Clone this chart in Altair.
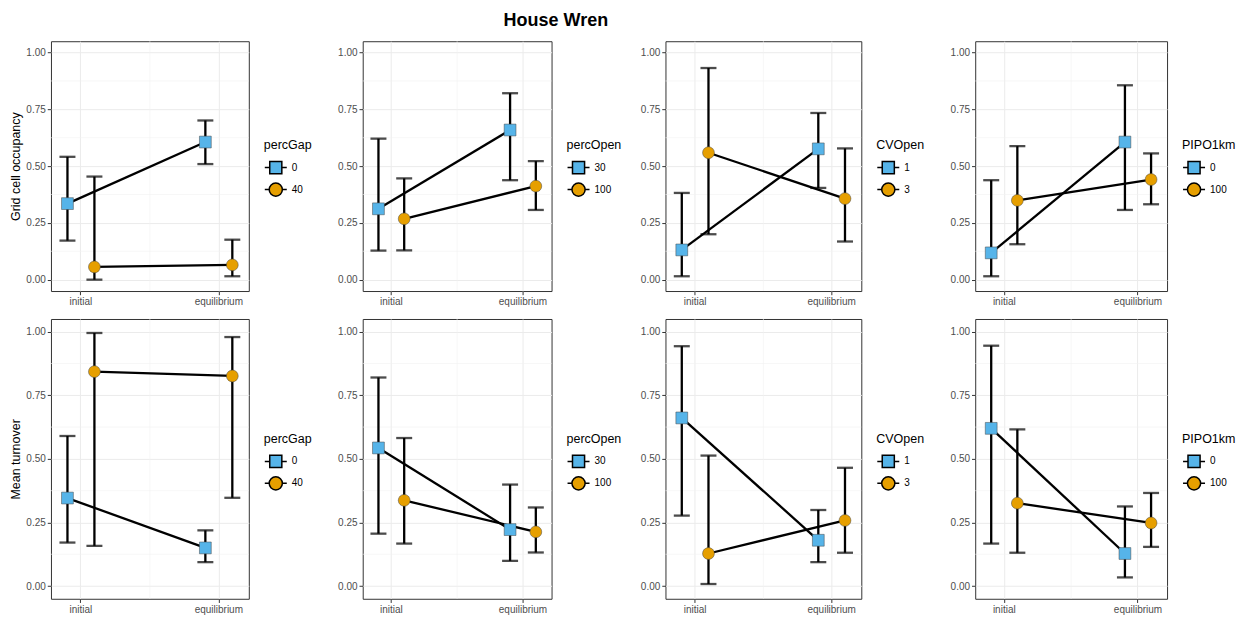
import altair as alt
import pandas as pd

title_text = "House Wren"
times = ["initial", "equilibrium"]
factors = ["percGap", "percOpen", "CVOpen", "PIPO1km"]
factor_levels = [["0", "40"], ["30", "100"], ["1", "3"], ["0", "100"]]
responses = ["Grid cell occupancy", "Mean turnover"]
level_colors = ["#56B4E9", "#E69F00"]

# order inside each panel: level A initial, level A equilibrium, level B initial, level B equilibrium
occ_mean = [
    [0.335, 0.606, 0.056, 0.065],
    [0.312, 0.659, 0.268, 0.412],
    [0.131, 0.576, 0.559, 0.357],
    [0.118, 0.606, 0.349, 0.441],
]
occ_lower = [
    [0.172, 0.509, 0.000, 0.015],
    [0.128, 0.438, 0.129, 0.307],
    [0.015, 0.404, 0.200, 0.168],
    [0.015, 0.307, 0.156, 0.332],
]
occ_upper = [
    [0.541, 0.701, 0.454, 0.176],
    [0.621, 0.821, 0.446, 0.522],
    [0.382, 0.734, 0.932, 0.578],
    [0.438, 0.856, 0.588, 0.556],
]
turn_mean = [
    [0.346, 0.150, 0.843, 0.826],
    [0.543, 0.222, 0.337, 0.213],
    [0.661, 0.180, 0.128, 0.258],
    [0.620, 0.128, 0.326, 0.248],
]
turn_lower = [
    [0.171, 0.094, 0.158, 0.347],
    [0.206, 0.099, 0.167, 0.132],
    [0.277, 0.094, 0.008, 0.131],
    [0.167, 0.034, 0.131, 0.154],
]
turn_upper = [
    [0.590, 0.219, 0.995, 0.979],
    [0.820, 0.399, 0.582, 0.309],
    [0.943, 0.299, 0.513, 0.465],
    [0.945, 0.313, 0.616, 0.366],
]

y_major = [0, 0.25, 0.5, 0.75, 1.0]
y_minor = [0.125, 0.375, 0.625, 0.875]

FONT = "Liberation Sans"
col_widths = [198, 189, 196, 192]
row_heights = [250, 280]
legend_y = [98, 114]
legend_x_gap = 15
PAD_IN = 0.609
PAD_OUT = 0.0218

SQ = "M-1,0H-0.55M0.55,0H1M-0.55,-0.55H0.55V0.55H-0.55Z"
CI = "M-1,0H-0.6M0.6,0H1M0.6,0A0.6,0.6,0,1,1,-0.6,0A0.6,0.6,0,1,1,0.6,0Z"

stats = [(occ_mean, occ_lower, occ_upper), (turn_mean, turn_lower, turn_upper)]


def build(r, c):
    mean, lower, upper = [s[c] for s in stats[r]]
    levels = factor_levels[c]
    rows = []
    for i, lev in enumerate(levels):
        for j, t in enumerate(times):
            k = i * 2 + j
            rows.append({"level": lev, "time": t, "mean": mean[k], "lo": lower[k], "hi": upper[k]})
    df = pd.DataFrame(rows)
    W = col_widths[c]
    H = row_heights[r]
    step = W / (len(times) - PAD_IN + 2 * PAD_OUT)
    bandw = step * (1 - PAD_IN)
    dodges = [-bandw / 4, bandw / 4]

    x = alt.X("time:N", title=None,
              scale=alt.Scale(type="band", domain=times, paddingInner=PAD_IN, paddingOuter=PAD_OUT),
              axis=alt.Axis(labelAngle=0, grid=True, domain=False))
    ysc = alt.Scale(domain=[-0.05, 1.05], nice=False, zero=False)
    yax = alt.Axis(values=y_major, format=".2f", grid=True, domain=False)
    ytitle = responses[r] if c == 0 else None

    def Y(field):
        return alt.Y(field, type="quantitative", scale=ysc, axis=yax, title=ytitle)

    fill_scale = alt.Scale(domain=levels, range=level_colors)
    layers = [
        alt.Chart(pd.DataFrame({"v": y_minor})).mark_rule(
            color="#F2F2F2", strokeWidth=0.6).encode(y=Y("v")),
        alt.Chart(pd.DataFrame({"v": [0]})).mark_rule(
            color="#F2F2F2", strokeWidth=0.6).encode(x=alt.value(W / 2)),
    ]
    base = alt.Chart(df)
    subs = [base.transform_filter(alt.datum.level == lev) for lev in levels]
    for sub, d in zip(subs, dodges):
        layers.append(sub.mark_rule(color="black", strokeWidth=2.3, xOffset=d).encode(
            x=x, y=Y("lo"), y2="hi:Q"))
        layers.append(sub.mark_tick(color="black", thickness=2.3, size=16, orient="horizontal",
                                    xOffset=d).encode(x=x, y=Y("hi")))
        layers.append(sub.mark_tick(color="black", thickness=2.3, size=16, orient="horizontal",
                                    xOffset=d).encode(x=x, y=Y("lo")))
    for sub, d in zip(subs, dodges):
        layers.append(sub.mark_line(color="black", strokeWidth=2.3, xOffset=d).encode(
            x=x, y=Y("mean"), detail="level:N"))
    # legend carrier: tiny symbols hidden under the level-A points
    leg = alt.Legend(title=factors[c], orient="none", legendX=W + legend_x_gap, legendY=legend_y[r],
                     symbolSize=484, symbolOpacity=1)
    layers.append(subs[0].mark_point(filled=True, opacity=1, size=4, stroke="black", strokeWidth=1.3,
                                     xOffset=dodges[0]).encode(
        x=x, y=Y("mean"),
        fill=alt.Fill("level:N", scale=fill_scale, legend=leg),
        shape=alt.Shape("level:N", scale=alt.Scale(domain=levels, range=[SQ, CI]), legend=leg),
    ))
    for sub, d in zip(subs, dodges):
        layers.append(sub.mark_point(filled=True, opacity=1, size=140, stroke="#444444", strokeWidth=0.5,
                                     xOffset=d).encode(
            x=x, y=Y("mean"),
            fill=alt.Fill("level:N", scale=fill_scale, legend=None),
            shape=alt.Shape("level:N", scale=alt.Scale(domain=levels, range=["square", "circle"]),
                            legend=None),
        ))
    return alt.layer(*layers).resolve_scale(
        fill="independent", shape="independent").properties(width=W, height=H)


panels = [build(r, c) for r in range(2) for c in range(4)]

chart = alt.concat(
    *panels, columns=4, spacing={"row": 28, "column": 114}, align="each", bounds="flush",
    title=alt.Title(title_text, anchor="start", frame="group", dx=453, offset=10),
).properties(
    padding={"left": 1, "top": 4, "right": 5, "bottom": 5}
).configure_view(
    stroke="#333333", strokeWidth=1
).configure_axis(
    labelFont=FONT, labelFontSize=10, labelColor="#4D4D4D", tickColor="#333333",
    tickSize=3.7, tickWidth=1, gridColor="#EBEBEB", gridWidth=1,
    titleFont=FONT, titleFontSize=12.5, titleFontWeight="normal", titleColor="black",
    labelPadding=2, titlePadding=3, domain=False,
).configure_legend(
    titleFont=FONT, titleFontSize=12.5, titleFontWeight="normal", titleColor="black",
    labelFont=FONT, labelFontSize=10, labelColor="black", symbolSize=484,
    rowPadding=0, labelOffset=4, titlePadding=4, padding=0,
).configure_title(
    font=FONT, fontSize=18, fontWeight="bold", color="black"
)

chart.save("out.html", embed_options={"renderer": "svg", "actions": False})
